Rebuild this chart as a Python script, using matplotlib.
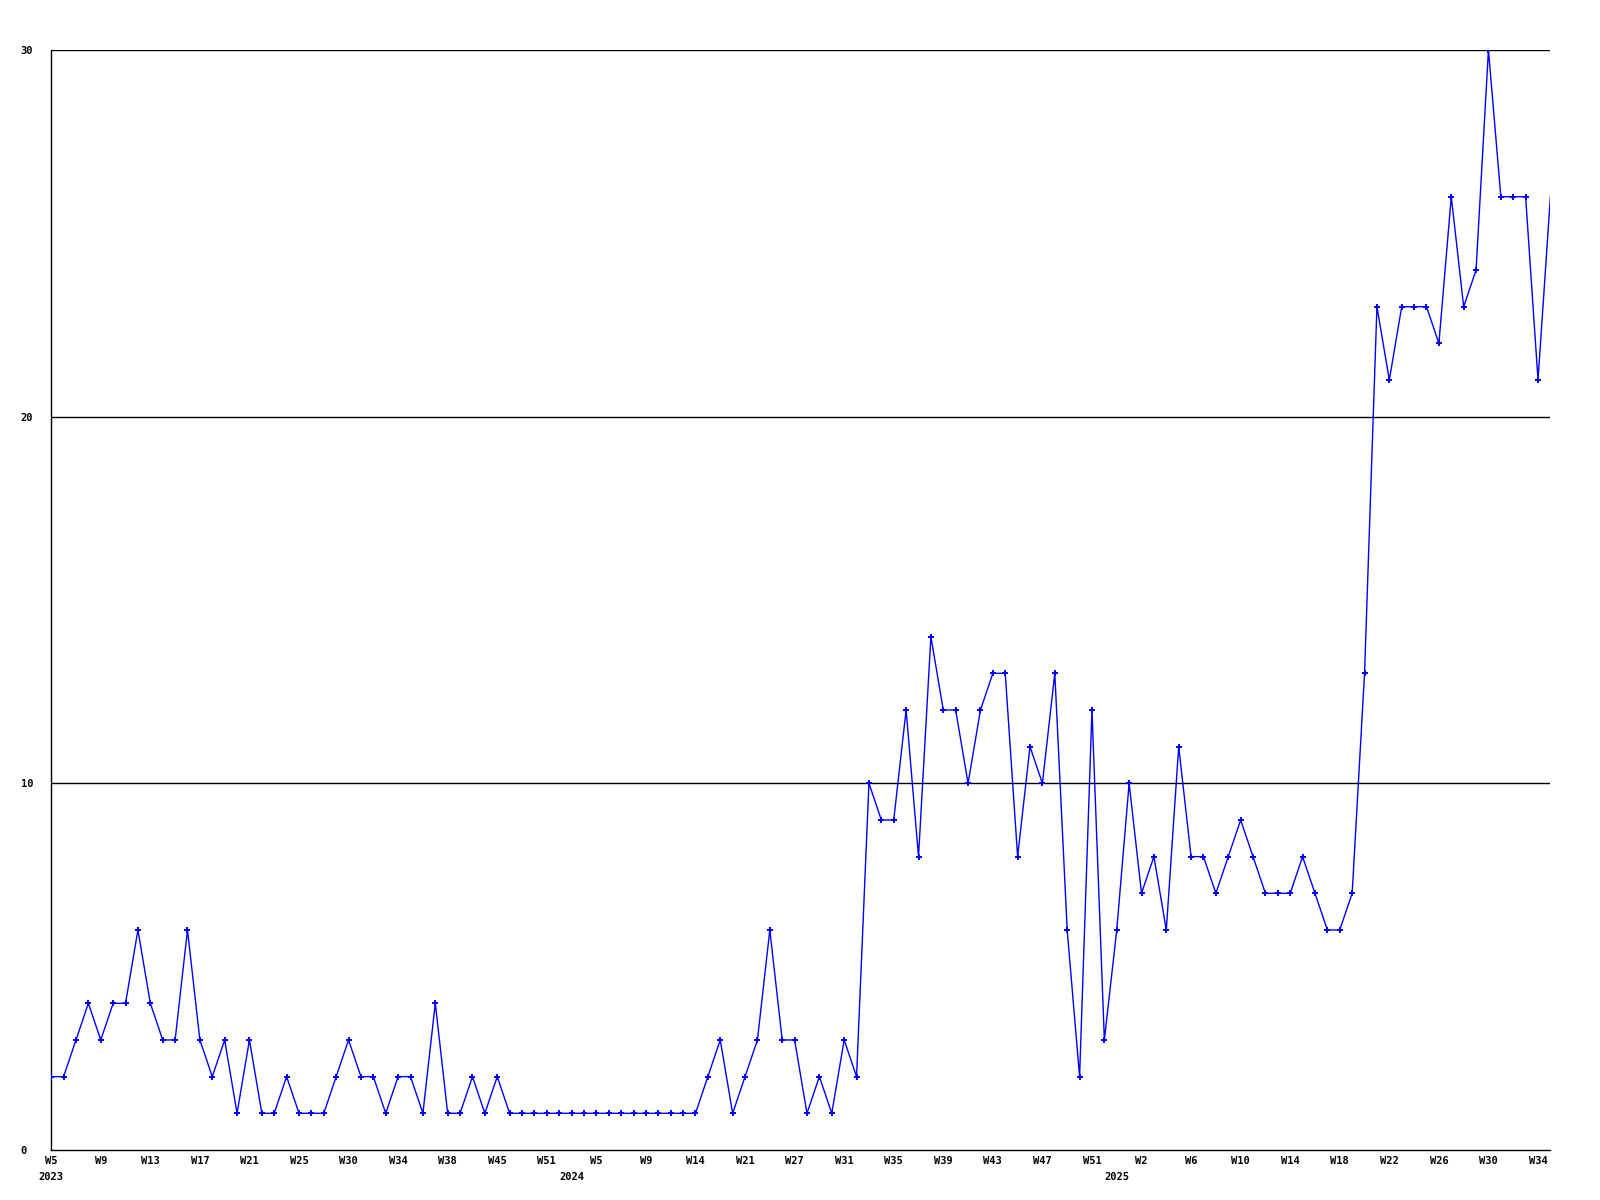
import matplotlib
matplotlib.use('Agg')
import matplotlib.pyplot as plt
import matplotlib.transforms as mtransforms

# weekly counts, one point per week that has data (W5 2023 -> W35 2025)
values = [2, 2, 3, 4, 3, 4, 4, 6, 4, 3, 3, 6, 3, 2, 3, 1, 3, 1, 1, 2,
          1, 1, 1, 2, 3, 2, 2, 1, 2, 2, 1, 4, 1, 1, 2, 1, 2, 1, 1, 1,
          1, 1, 1, 1, 1, 1, 1, 1, 1, 1, 1, 1, 1, 2, 3, 1, 2, 3, 6, 3,
          3, 1, 2, 1, 3, 2, 10, 9, 9, 12, 8, 14, 12, 12, 10, 12, 13, 13, 8, 11,
          10, 13, 6, 2, 12, 3, 6, 10, 7, 8, 6, 11, 8, 8, 7, 8, 9, 8, 7, 7,
          7, 8, 7, 6, 6, 7, 13, 23, 21, 23, 23, 23, 22, 26, 23, 24, 30, 26, 26, 26,
          21, 26]

week_labels = ['W5', 'W9', 'W13', 'W17', 'W21', 'W25', 'W30', 'W34', 'W38', 'W45',
               'W51', 'W5', 'W9', 'W14', 'W21', 'W27', 'W31', 'W35', 'W39', 'W43',
               'W47', 'W51', 'W2', 'W6', 'W10', 'W14', 'W18', 'W22', 'W26', 'W30', 'W34']
years = ['2023', '2024', '2025']
year_start = [0, 42, 86]

x = list(range(len(values)))

fig = plt.figure(figsize=(16, 12), dpi=100)
ax = fig.add_axes([0.032, 0.0417, 0.937, 0.9166])

for y in [10, 20, 30]:
    ax.axhline(y, color='black', linewidth=1, zorder=1)

# last point sits on the right edge and has no marker in the original
ax.plot(x, values, color='#0000ff', linewidth=1.0, marker='+', markersize=4,
        markeredgewidth=1.4, markevery=list(range(len(values) - 1)), zorder=3)

ax.set_xlim(0, len(values) - 1)
ax.set_ylim(0, 30)

for side in ['top', 'right']:
    ax.spines[side].set_visible(False)
ax.spines['left'].set_linewidth(1)
ax.spines['bottom'].set_linewidth(1)

font = dict(family='DejaVu Sans Mono', fontweight='bold', fontsize=7.5)

ax.set_yticks([0, 10, 20, 30])
ax.set_yticklabels(['0', '10', '20', '30'], **font)
ax.tick_params(axis='y', length=0, pad=22)
for lab in ax.get_yticklabels():
    lab.set_horizontalalignment('left')

ax.set_xticks(x[::4])
ax.set_xticklabels(week_labels, **font)
ax.tick_params(axis='x', length=0, pad=4)

trans = mtransforms.blended_transform_factory(ax.transData, ax.transAxes)
for yr, pos in zip(years, year_start):
    ax.text(pos, -0.02, yr, transform=trans, ha='center', va='top', **font)

fig.savefig('out.png', dpi=100)
